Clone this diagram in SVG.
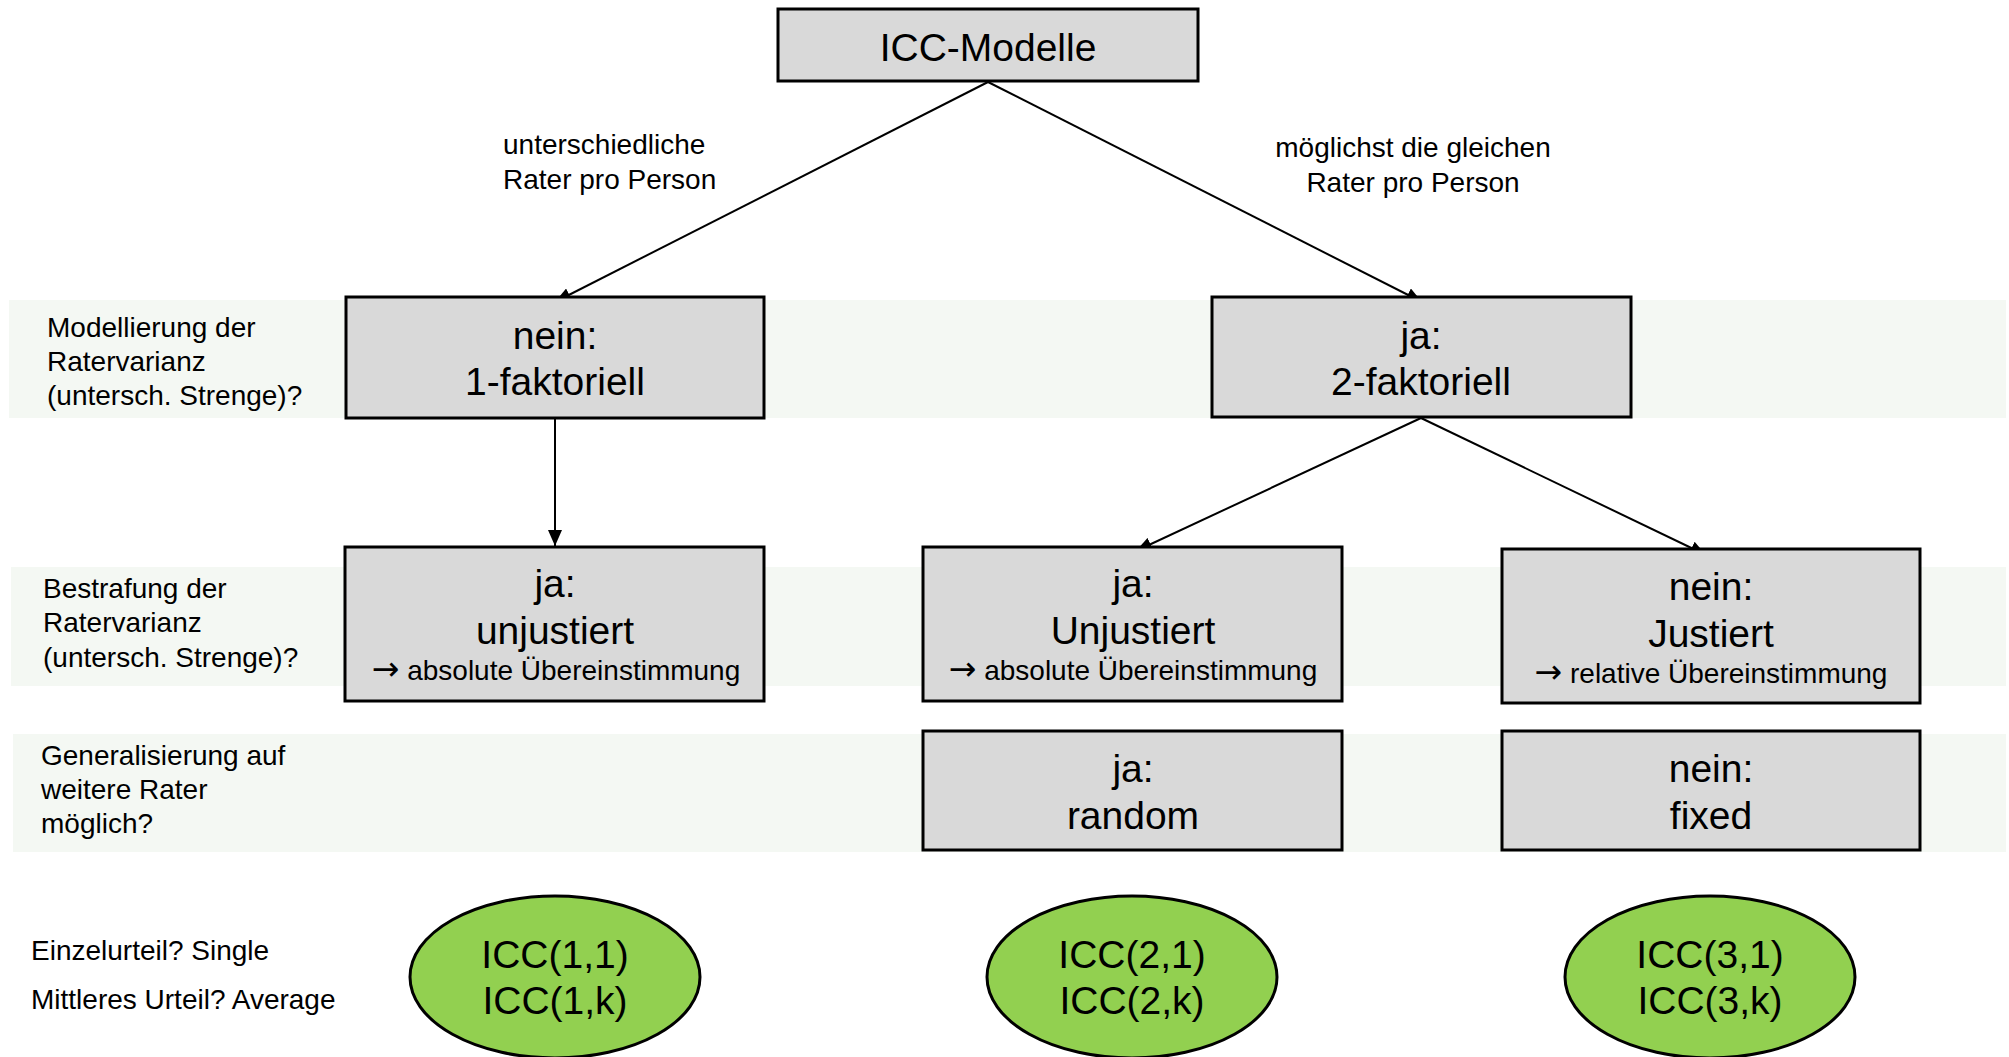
<svg xmlns="http://www.w3.org/2000/svg" width="2009" height="1057" viewBox="0 0 2009 1057">
<style>
text{font-family:"Liberation Sans",Arial,sans-serif;fill:#000}
.band{fill:#f4f8f3}
.box{fill:#d9d9d9;stroke:#000;stroke-width:3}
.ell{fill:#92d050;stroke:#000;stroke-width:3}
.big{font-size:39px;text-anchor:middle}
.mid{font-size:28px;text-anchor:middle}
.lbl{font-size:28px}
.arr{font-family:"DejaVu Sans",sans-serif;font-size:33px}
.conn{stroke:#000;stroke-width:2;fill:none;marker-end:url(#ah)}
</style>
<defs>
<marker id="ah" viewBox="0 0 16 14" refX="16" refY="7" markerWidth="16" markerHeight="14" markerUnits="userSpaceOnUse" orient="auto">
<path d="M0,0 L16,7 L0,14 z" fill="#000"/>
</marker>
</defs>
<rect width="2009" height="1057" fill="#fff"/>
<g id="bands">
<rect class="band" x="9" y="300" width="1997" height="118"/>
<rect class="band" x="11" y="567" width="1995" height="119"/>
<rect class="band" x="13" y="734" width="1993" height="118"/>
</g>
<g id="row-labels">
<text class="lbl" x="47" y="337">Modellierung der</text>
<text class="lbl" x="47" y="371">Ratervarianz</text>
<text class="lbl" x="47" y="405">(untersch. Strenge)?</text>
<text class="lbl" x="43" y="598">Bestrafung der</text>
<text class="lbl" x="43" y="632">Ratervarianz</text>
<text class="lbl" x="43" y="667">(untersch. Strenge)?</text>
<text class="lbl" x="41" y="765">Generalisierung auf</text>
<text class="lbl" x="41" y="799">weitere Rater</text>
<text class="lbl" x="41" y="833">möglich?</text>
<text class="lbl" x="31" y="960">Einzelurteil? Single</text>
<text class="lbl" x="31" y="1009">Mittleres Urteil? Average</text>
</g>
<g id="connectors">
<line class="conn" x1="988" y1="82" x2="555" y2="302"/>
<line class="conn" x1="988" y1="82" x2="1422" y2="302"/>
<line class="conn" x1="555" y1="418" x2="555" y2="546"/>
<line class="conn" x1="1421" y1="418" x2="1136" y2="551"/>
<line class="conn" x1="1421" y1="418" x2="1706" y2="555"/>
<text class="lbl" x="503" y="154">unterschiedliche</text>
<text class="lbl" x="503" y="189">Rater pro Person</text>
<text class="mid" x="1413" y="157">möglichst die gleichen</text>
<text class="mid" x="1413" y="192">Rater pro Person</text>
</g>
<g id="n-icc">
<rect class="box" x="778" y="9" width="420" height="72"/>
<text class="big" x="988" y="61">ICC-Modelle</text>
</g>
<g id="n-1fakt">
<rect class="box" x="346" y="297" width="418" height="121"/>
<text class="big" x="555" y="349">nein:</text>
<text class="big" x="555" y="395">1-faktoriell</text>
</g>
<g id="n-2fakt">
<rect class="box" x="1212" y="297" width="419" height="120"/>
<text class="big" x="1421" y="349">ja:</text>
<text class="big" x="1421" y="395">2-faktoriell</text>
</g>
<g id="n-unjust1">
<rect class="box" x="345" y="547" width="419" height="154"/>
<text class="big" x="555" y="597">ja:</text>
<text class="big" x="555" y="644">unjustiert</text>
<text class="mid" x="556" y="680"><tspan class="arr">→</tspan> absolute Übereinstimmung</text>
</g>
<g id="n-unjust2">
<rect class="box" x="923" y="547" width="419" height="154"/>
<text class="big" x="1133" y="597">ja:</text>
<text class="big" x="1133" y="644">Unjustiert</text>
<text class="mid" x="1133" y="680"><tspan class="arr">→</tspan> absolute Übereinstimmung</text>
</g>
<g id="n-just">
<rect class="box" x="1502" y="549" width="418" height="154"/>
<text class="big" x="1711" y="600">nein:</text>
<text class="big" x="1711" y="647">Justiert</text>
<text class="mid" x="1711" y="683"><tspan class="arr">→</tspan> relative Übereinstimmung</text>
</g>
<g id="n-random">
<rect class="box" x="923" y="731" width="419" height="119"/>
<text class="big" x="1133" y="782">ja:</text>
<text class="big" x="1133" y="829">random</text>
</g>
<g id="n-fixed">
<rect class="box" x="1502" y="731" width="418" height="119"/>
<text class="big" x="1711" y="782">nein:</text>
<text class="big" x="1711" y="829">fixed</text>
</g>
<g id="n-icc1">
<ellipse class="ell" cx="555" cy="977" rx="145" ry="81"/>
<text class="big" x="555" y="968">ICC(1,1)</text>
<text class="big" x="555" y="1014">ICC(1,k)</text>
</g>
<g id="n-icc2">
<ellipse class="ell" cx="1132" cy="977" rx="145" ry="81"/>
<text class="big" x="1132" y="968">ICC(2,1)</text>
<text class="big" x="1132" y="1014">ICC(2,k)</text>
</g>
<g id="n-icc3">
<ellipse class="ell" cx="1710" cy="977" rx="145" ry="81"/>
<text class="big" x="1710" y="968">ICC(3,1)</text>
<text class="big" x="1710" y="1014">ICC(3,k)</text>
</g>
</svg>
